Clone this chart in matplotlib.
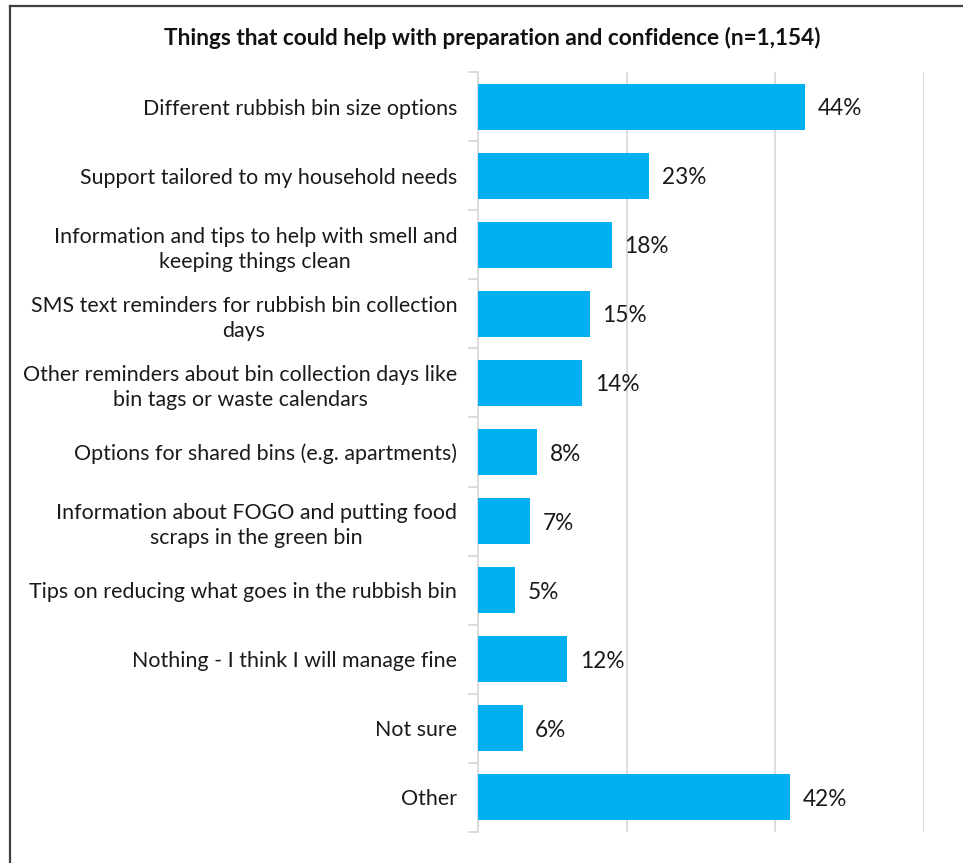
import numpy as np
import matplotlib
matplotlib.use("Agg")
import matplotlib.pyplot as plt
from matplotlib.lines import Line2D

# ------------------------------------ survey responses

labels = [
    "Different rubbish bin size options",
    "Support tailored to my household needs",
    "Information and tips to help with smell and\nkeeping things clean",
    "SMS text reminders for rubbish bin collection\ndays",
    "Other reminders about bin collection days like\nbin tags or waste calendars",
    "Options for shared bins (e.g. apartments)",
    "Information about FOGO and putting food\nscraps in the green bin",
    "Tips on reducing what goes in the rubbish bin",
    "Nothing - I think I will manage fine",
    "Not sure",
    "Other",
]
values = [44, 23, 18, 15, 14, 8, 7, 5, 12, 6, 42]

title = "Things that could help with preparation and confidence (n=1,154)"

BAR = "#00B0F0"
GRID = "#D9D9D9"

plt.rcParams["font.family"] = ["Lato", "DejaVu Sans"]

W, H = 963, 863
fig = plt.figure(figsize=(W / 100, H / 100), dpi=100)
axi = fig.add_axes([478 / W, 1 - 832 / H, (924 - 478) / W, (832 - 72) / H])

ypos = np.arange(len(labels))
axi.barh(ypos, values, height=0.667, color=BAR, zorder=3)

for yy, vv in zip(ypos, values):
    axi.text(vv + 1.7, yy + 0.03, f"{vv}%", va="center", ha="left",
             fontsize=16.3, color="#1a1a1a")

axi.set_xlim(0, 60)
axi.set_ylim(len(labels) - 0.5, -0.5)

axi.set_xticks([20, 40, 60])
axi.tick_params(axis="x", length=0, labelbottom=False)
axi.xaxis.grid(True, color=GRID, linewidth=1.3, zorder=0)

axi.set_yticks(ypos)
axi.set_yticklabels(labels, fontsize=15.4, color="#1a1a1a",
                    linespacing=1.3, multialignment="center")
axi.tick_params(axis="y", which="major", length=0, pad=15)
axi.set_yticks(np.arange(len(labels) + 1) - 0.5, minor=True)
axi.tick_params(axis="y", which="minor", length=7, width=1.3, color=GRID)

for side in ("top", "right", "bottom"):
    axi.spines[side].set_visible(False)
axi.spines["left"].set_color(GRID)
axi.spines["left"].set_linewidth(1.3)

fig.text(492 / W, 1 - 38 / H, title, ha="center", va="center",
         fontsize=16.3, fontweight="bold", color="#111111")

# ------------------------------------ outer frame (left + top)

fig.add_artist(Line2D([10 / W, 10 / W], [0, 1 - 6 / H],
                      transform=fig.transFigure, color="#404040", lw=1.6))
fig.add_artist(Line2D([10 / W, 1], [1 - 6 / H, 1 - 6 / H],
                      transform=fig.transFigure, color="#404040", lw=1.6))

fig.savefig("out.png", dpi=100, facecolor="white")
